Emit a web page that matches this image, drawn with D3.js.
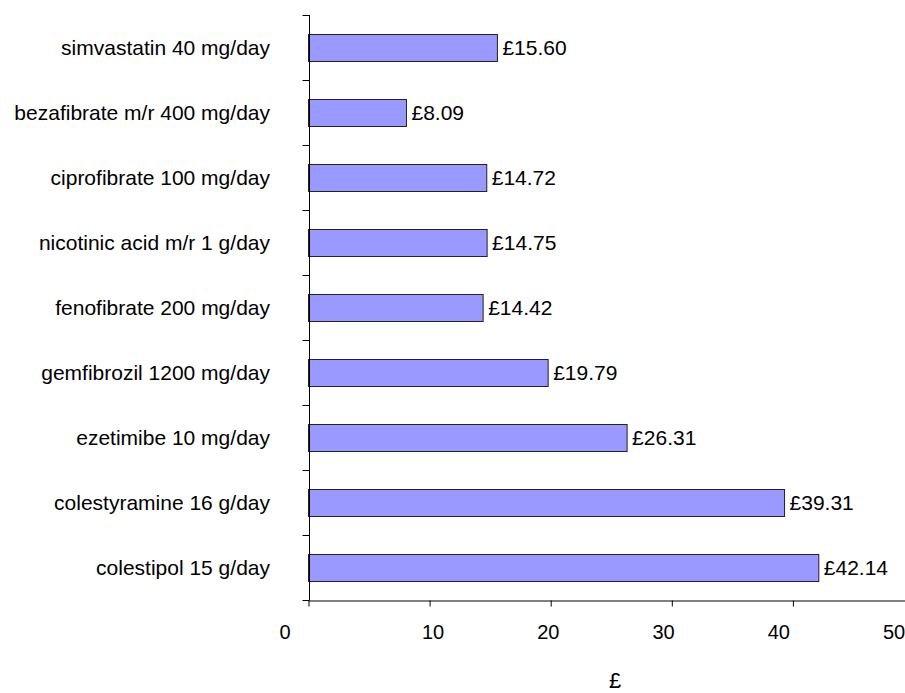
<!DOCTYPE html>
<html>
<head>
<meta charset="utf-8">
<script src="https://cdn.jsdelivr.net/npm/d3@7/dist/d3.min.js"></script>
<style>
  html, body { margin: 0; padding: 0; background: #ffffff; }
  svg { display: block; }
  text { font-family: "Liberation Sans", Arial, sans-serif; fill: #000; }
</style>
</head>
<body>
<svg id="chart" width="905" height="693"></svg>
<script>
// Daily cost of lipid-regulating drugs (£), top to bottom
const drugs = [
  "simvastatin 40 mg/day",
  "bezafibrate m/r 400 mg/day",
  "ciprofibrate 100 mg/day",
  "nicotinic acid m/r 1 g/day",
  "fenofibrate 200 mg/day",
  "gemfibrozil 1200 mg/day",
  "ezetimibe 10 mg/day",
  "colestyramine 16 g/day",
  "colestipol 15 g/day"
];
const costs = [15.60, 8.09, 14.72, 14.75, 14.42, 19.79, 26.31, 39.31, 42.14];
const xTicks = [0, 10, 20, 30, 40, 50];
const xTitle = "£";

const svg = d3.select("#chart");

const x = d3.scaleLinear().domain([0, 50]).range([308.5, 914]);
const y = d3.scaleBand().domain(drugs).range([15, 600]).paddingInner(0.585).paddingOuter(0.2925);

// tick labels sit on their own (slightly compressed) spacing
const xLabel = d3.scaleLinear().domain([0, 10, 50]).range([285, 433, 894]);

const fmt = d => "£" + d.toFixed(2);

// bars
svg.append("g")
  .selectAll("rect")
  .data(drugs)
  .join("rect")
  .attr("x", x(0))
  .attr("y", d => Math.round(y(d)) + 0.5)
  .attr("width", (d, i) => x(costs[i]) - x(0))
  .attr("height", Math.round(y.bandwidth()))
  .attr("fill", "#9999ff")
  .attr("stroke", "#222")
  .attr("stroke-width", 1);

// value labels
svg.append("g")
  .selectAll("text")
  .data(drugs)
  .join("text")
  .attr("x", (d, i) => x(costs[i]) + 5)
  .attr("y", d => y(d) + y.bandwidth() / 2)
  .attr("dy", "0.35em")
  .style("font-size", "21px")
  .text((d, i) => fmt(costs[i]));

// category labels
svg.append("g")
  .selectAll("text")
  .data(drugs)
  .join("text")
  .attr("x", 270)
  .attr("y", d => y(d) + y.bandwidth() / 2)
  .attr("dy", "0.35em")
  .attr("text-anchor", "end")
  .style("font-size", "21px")
  .text(d => d);

// y axis: line with ticks at band boundaries
const yAxisX = Math.round(x(0)) + 0.5;
const bounds = drugs.map(d => y(d) - (y.step() - y.bandwidth()) / 2).concat([y.range()[1]]);
const yg = svg.append("g").attr("stroke", "#000").attr("stroke-width", 1);
yg.append("line")
  .attr("x1", yAxisX).attr("x2", yAxisX)
  .attr("y1", y.range()[0]).attr("y2", y.range()[1]);
yg.selectAll("line.tick")
  .data(bounds)
  .join("line")
  .attr("class", "tick")
  .attr("x1", yAxisX - 7).attr("x2", yAxisX)
  .attr("y1", d => Math.round(d) + 0.5).attr("y2", d => Math.round(d) + 0.5);

// x axis
const xAxis = d3.axisBottom(x)
  .tickValues(xTicks)
  .tickSize(6)
  .tickSizeOuter(0)
  .tickFormat("");
const xg = svg.append("g")
  .attr("transform", `translate(0,${Math.round(y.range()[1]) + 0.5})`)
  .call(xAxis);
xg.select(".domain").attr("stroke", "#000");
xg.selectAll(".tick line").attr("stroke", "#000");

svg.append("g")
  .selectAll("text")
  .data(xTicks)
  .join("text")
  .attr("x", d => xLabel(d))
  .attr("y", 639)
  .attr("text-anchor", "middle")
  .style("font-size", "20px")
  .text(d => d);

// axis title
svg.append("text")
  .attr("x", 615)
  .attr("y", 688)
  .attr("text-anchor", "middle")
  .style("font-size", "22px")
  .text(xTitle);
</script>
</body>
</html>
